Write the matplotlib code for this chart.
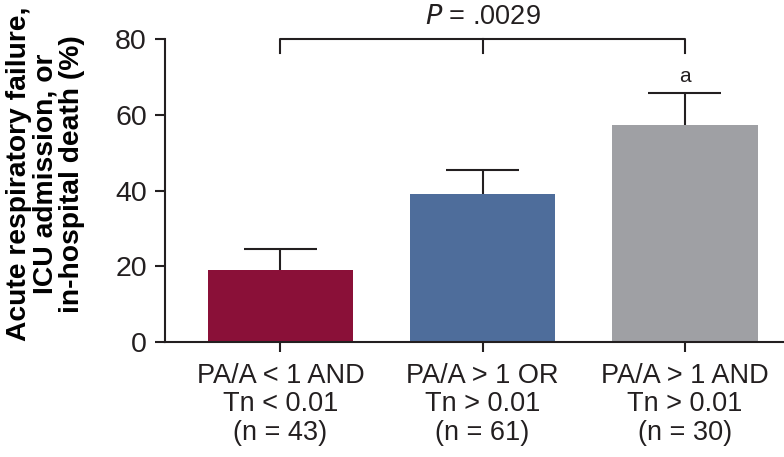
import numpy as np
from matplotlib import pyplot as plt

plt.rcParams['font.family'] = ['Liberation Sans', 'DejaVu Sans']

# Data
groups = ['PA/A < 1 AND\nTn < 0.01\n(n = 43)',
          'PA/A > 1 OR\nTn > 0.01\n(n = 61)',
          'PA/A > 1 AND\nTn > 0.01\n(n = 30)']
rates = [19.0, 39.0, 57.3]
errors = [5.5, 6.5, 8.4]
colors = ['#8a1038', '#4e6d9b', '#9fa0a4']
p_label = '$\\it{P}$ = .0029'
note_label = 'a'

ink = '#231f20'

fig = plt.figure(figsize=(7.84, 4.57), dpi=100)
ax = fig.add_axes([0.2105, 0.2516, 0.7895, 0.6631])

x = np.arange(len(groups))
rates = np.array(rates)
errors = np.array(errors)

ax.bar(x, rates, width=0.72, color=colors, zorder=2)

# upper-only error bars
tops = rates + errors
ax.vlines(x, rates, tops, color=ink, linewidth=1.5, zorder=3)
ax.hlines(tops, x - 0.18, x + 0.18, color=ink, linewidth=1.5, zorder=3)

# significance bracket across all groups
ax.plot([x[0], x[0], x[-1], x[-1]], [76.2, 80, 80, 76.2], color=ink,
        linewidth=1.5, clip_on=False)
ax.plot([x[1], x[1]], [80, 76.2], color=ink, linewidth=1.5, clip_on=False)
ax.text(x[1], 82.3, p_label, ha='center', va='bottom', fontsize=19.5,
        color=ink, clip_on=False)
ax.text(x[2], tops[2] + 1.8, note_label, ha='center', va='bottom',
        fontsize=15, color=ink, family='Liberation Sans')

ax.set_xlim(-0.57, 2.49)
ax.set_ylim(0, 80)
ax.set_yticks([0, 20, 40, 60, 80])
ax.set_xticks(x)
ax.set_xticklabels(groups, fontsize=19.5, linespacing=1.12, color=ink)

for side in ['top', 'right']:
    ax.spines[side].set_visible(False)
for side in ['left', 'bottom']:
    ax.spines[side].set_linewidth(1.5)
    ax.spines[side].set_color(ink)

ax.tick_params(axis='y', length=7, width=1.5, color=ink, pad=6,
               labelsize=20.5, labelcolor=ink)
ax.tick_params(axis='x', length=7, width=1.5, color=ink, pad=8)

ax.set_ylabel('Acute respiratory failure,\nICU admission, or\nin-hospital death (%)',
              fontsize=20.3, fontweight='bold', linespacing=1.02, color='black')
ax.yaxis.set_label_coords(-0.13, 0.555)

fig.savefig('out.png', dpi=100)
